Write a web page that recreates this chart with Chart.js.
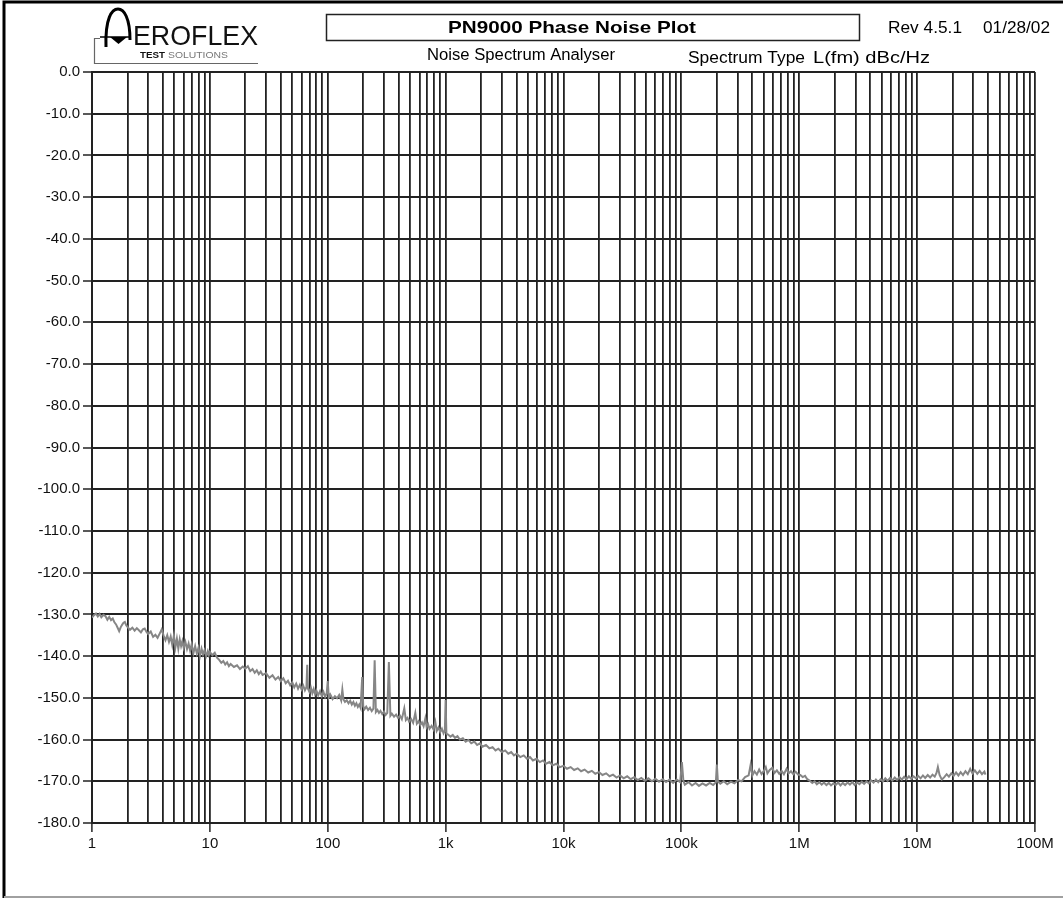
<!DOCTYPE html>
<html>
<head>
<meta charset="utf-8">
<title>PN9000 Phase Noise Plot</title>
<script src="https://cdn.jsdelivr.net/npm/chart.js@4.4.1/dist/chart.umd.min.js"></script>
<style>
  html, body { margin: 0; padding: 0; background: #fff; }
  #wrap { width: 1063px; height: 899px; position: relative; }
</style>
</head>
<body>
<div id="wrap"><canvas id="noiseChart" width="1063" height="899"></canvas></div>
<script>
// offset frequency (Hz) and single sideband phase noise L(fm) in dBc/Hz, one row per decade
const freqHz = [
  1.00, 1.04, 1.08, 1.12, 1.16, 1.2, 1.25, 1.3, 1.35, 1.4, 1.45, 1.5, 1.55, 1.6, 1.65, 1.7,
  1.75, 1.8, 1.85, 1.9, 1.95, 2.0, 2.1, 2.2, 2.3, 2.4, 2.5, 2.6, 2.7, 2.8, 2.9, 3.0, 3.15,
  3.3, 3.45, 3.6, 3.75, 3.9, 4.05, 4.2, 4.35, 4.5, 4.65, 4.8, 4.95, 5.1, 5.25, 5.4, 5.55,
  5.7, 5.85, 6.0, 6.2, 6.4, 6.6, 6.8, 7.0, 7.25, 7.5, 7.75, 8.0, 8.25, 8.5, 8.75, 9.0, 9.3,
  9.6, 9.8,
  10, 10.5, 11, 11.5, 12, 12.5, 13, 13.5, 14, 14.5, 15, 16, 17, 18, 19, 20, 21, 22, 23, 24,
  25, 26, 27, 28, 30, 32, 34, 36, 38, 40, 42, 44, 46, 48, 50, 52, 54, 56, 58, 60, 62, 64,
  66, 67, 68, 70, 72, 74, 76, 78, 80, 83, 86, 89, 92, 95, 98, 100, 102, 105,
  110, 115, 120, 125, 130, 133, 136, 140, 145, 150, 155, 160, 165, 170, 175, 180, 185, 190,
  196, 200, 205, 212, 220, 228, 236, 244, 250, 256, 264, 272, 280, 290, 300, 310, 320, 330,
  340, 350, 365, 380, 395, 410, 425, 446, 460, 475, 490, 510, 530, 553, 570, 590, 610, 630,
  650, 673, 690, 710, 730, 760, 790, 818, 840, 870, 900, 930, 960, 985, 1000, 1015,
  1050, 1100, 1150, 1200, 1260, 1320, 1400, 1480, 1560, 1650, 1750, 1850, 1950, 2050, 2200,
  2350, 2500, 2650, 2800, 3000, 3200, 3400, 3600, 3800, 4000, 4300, 4600, 4900, 5200, 5500,
  5900, 6300, 6700, 7100, 7600, 8100, 8700, 9300, 10000,
  10.7e3, 11.5e3, 12.3e3, 13.2e3, 14.1e3, 15.1e3, 16.2e3, 17.4e3, 18.6e3, 20e3, 21.4e3,
  23e3, 24.6e3, 26.3e3, 28.2e3, 30.2e3, 32.4e3, 34.7e3, 37.2e3, 39.8e3, 42.7e3, 45.7e3,
  49e3, 52.5e3, 56.2e3, 60.3e3, 64.6e3, 69.2e3, 74.1e3, 79.4e3, 85.1e3, 91.2e3, 97.7e3,
  101e3, 104e3,
  107e3, 115e3, 123e3, 132e3, 141e3, 151e3, 162e3, 174e3, 186e3, 196e3, 200e3, 204e3,
  214e3, 229e3, 245e3, 263e3, 282e3, 302e3, 324e3, 347e3, 372e3, 387e3, 400e3, 417e3,
  437e3, 457e3, 479e3, 501e3, 520e3, 537e3, 562e3, 590e3, 617e3, 646e3, 676e3, 708e3,
  741e3, 780e3, 813e3, 851e3, 891e3, 933e3, 977e3,
  1.02e6, 1.07e6, 1.12e6, 1.17e6, 1.23e6, 1.29e6, 1.35e6, 1.41e6, 1.48e6, 1.55e6, 1.62e6,
  1.7e6, 1.78e6, 1.86e6, 1.95e6, 2.04e6, 2.14e6, 2.24e6, 2.34e6, 2.45e6, 2.57e6, 2.69e6,
  2.82e6, 2.95e6, 3.09e6, 3.24e6, 3.39e6, 3.55e6, 3.72e6, 3.89e6, 4.07e6, 4.27e6, 4.47e6,
  4.68e6, 4.9e6, 5.13e6, 5.37e6, 5.62e6, 5.89e6, 6.17e6, 6.46e6, 6.76e6, 7.08e6, 7.41e6,
  7.76e6, 8.13e6, 8.51e6, 8.91e6, 9.33e6, 9.77e6,
  10.2e6, 10.7e6, 11.2e6, 11.7e6, 12.3e6, 12.9e6, 13.5e6, 14.1e6, 14.6e6, 15.0e6, 15.5e6,
  16.2e6, 17.0e6, 17.8e6, 18.6e6, 19.5e6, 20.4e6, 21.4e6, 22.4e6, 23.4e6, 24.5e6, 25.7e6,
  26.9e6, 28.2e6, 29.5e6, 30.9e6, 32.4e6, 33.9e6, 35.5e6, 37.2e6, 38.0e6
];
const levelDb = [
  -130.8, -130.2, -129.8, -130.5, -129.9, -130.7, -130.1, -130.4, -131.3, -130.6, -131.4, -131.0, -131.9, -132.4, -133.2, -134.0,
  -133.1, -132.5, -132.0, -131.8, -132.6, -133.0, -133.7, -133.2, -133.9, -133.3, -133.8, -134.3, -133.6, -133.4, -134.2, -134.7, -134.1,
  -135.4, -134.9, -135.6, -134.6, -133.6, -135.1, -136.2, -135.0, -136.6, -135.3, -137.4, -135.1, -137.9, -135.8, -138.2, -136.0,
  -137.6, -136.4, -138.0, -136.6, -138.3, -137.0, -138.7, -137.2, -139.3, -137.6, -139.4, -138.0, -139.9, -138.2, -139.6, -138.6, -140.0,
  -138.8, -139.7,
  -139.0, -139.8, -139.2, -140.4, -140.9, -141.6, -141.2, -142.0, -141.5, -142.4, -141.9, -142.6, -142.2, -143.1, -142.5, -143.0, -142.4, -143.6, -143.1, -144.0,
  -143.4, -144.3, -143.7, -144.5, -144.1, -145.2, -144.6, -145.6, -145.0, -146.0, -145.3, -146.5, -145.9, -147.0, -146.3, -147.5, -146.6, -147.8, -146.9, -148.0, -147.1, -148.2,
  -147.4, -142.1, -147.8, -148.6, -147.6, -148.9, -147.9, -149.1, -148.2, -149.4, -148.4, -149.6, -148.6, -149.8, -148.9, -146.0, -149.9, -149.2,
  -150.3, -149.6, -150.1, -149.3, -150.6, -148.0, -150.4, -151.0, -150.6, -151.3, -150.7, -151.6, -151.0, -151.9, -151.3, -152.2, -151.6, -152.4,
  -145.0, -152.0, -152.7, -152.1, -152.9, -152.4, -153.2, -152.6, -141.0, -153.4, -152.9, -153.6, -153.1, -153.9, -153.3, -154.1, -153.6, -141.4,
  -154.3, -153.8, -154.5, -154.0, -154.8, -154.3, -155.1, -152.5, -155.3, -154.8, -155.7, -155.1, -156.0, -153.6, -156.2, -155.6, -156.5, -155.9,
  -156.8, -154.9, -157.0, -156.3, -157.4, -156.7, -157.6, -155.8, -157.9, -157.1, -158.2, -157.4, -158.5, -157.8, -150.5, -158.6,
  -158.8, -159.3, -158.9, -159.6, -159.2, -160.0, -159.7, -160.5, -160.1, -160.9, -160.5, -161.3, -160.9, -161.7, -161.3,
  -162.1, -161.8, -162.6, -162.2, -163.0, -162.6, -163.4, -163.0, -163.8, -163.4, -164.2, -163.8, -164.6, -164.2, -165.0,
  -164.6, -165.4, -165.0, -165.8, -165.4, -166.2, -165.8, -166.6, -166.3,
  -167.0, -166.6, -167.3, -166.9, -167.6, -167.2, -167.9, -167.5, -168.2, -167.8, -168.5,
  -168.1, -168.8, -168.4, -169.1, -168.6, -169.3, -168.8, -169.5, -169.0, -169.7, -169.2,
  -169.9, -169.3, -170.0, -169.4, -170.1, -169.5, -170.2, -169.6, -170.4, -169.6, -170.2,
  -165.4, -169.9,
  -170.8, -170.2, -171.0, -170.4, -171.1, -170.5, -171.0, -170.4, -170.9, -170.3, -166.0, -170.0,
  -170.6, -170.0, -170.7, -170.1, -170.5, -169.7, -170.0, -169.0, -168.6, -166.0, -168.6, -167.6,
  -168.4, -167.2, -168.3, -167.5, -166.6, -168.1, -167.3, -166.8, -168.0, -167.4, -168.2, -167.5,
  -168.3, -167.0, -168.1, -167.6, -168.3, -167.7, -168.4,
  -168.5, -169.0, -168.7, -169.5, -169.9, -170.4, -170.0, -170.7, -170.2, -170.8, -170.3,
  -170.9, -170.4, -171.0, -170.5, -170.9, -170.3, -171.0, -170.4, -170.9, -170.3, -170.8,
  -170.2, -170.9, -170.3, -170.7, -170.1, -170.6, -170.0, -170.5, -169.8, -170.3, -169.6,
  -170.2, -169.5, -170.0, -169.3, -169.9, -169.2, -169.8, -169.1, -169.7, -169.0, -169.6,
  -168.9, -169.5, -168.8, -169.4, -168.8, -169.3,
  -168.7, -169.3, -168.6, -169.2, -168.5, -169.1, -168.4, -168.9, -168.0, -166.6, -168.5,
  -169.6, -169.0, -168.3, -168.9, -168.1, -168.7, -167.9, -168.6, -167.8, -168.5, -167.6,
  -168.3, -167.0, -168.1, -167.4, -168.2, -167.5, -168.3, -167.7, -168.4
];

const xTickLabels = ['1', '10', '100', '1k', '10k', '100k', '1M', '10M', '100M'];
const decades = [1, 10, 100, 1e3, 1e4, 1e5, 1e6, 1e7, 1e8];
const yMin = -180;
const yMax = 0;

const sans = "'Liberation Sans', Arial, sans-serif";
const gridColor = '#222';

const points = freqHz.map((f, i) => ({ x: f, y: levelDb[i] }));

// stretch or squeeze text so it fills the given width
function fitText(c, text, x, y, width) {
  const w = c.measureText(text).width;
  c.save();
  c.translate(x, y);
  c.scale(width / w, 1);
  c.fillText(text, 0, 0);
  c.restore();
}

const pagePlugin = {
  id: 'page',
  beforeDraw(chart) {
    const c = chart.ctx;
    c.save();
    c.fillStyle = '#fff';
    c.fillRect(0, 0, chart.width, chart.height);
    c.restore();
  },
  afterDraw(chart) {
    const c = chart.ctx;
    c.save();

    // frame
    c.strokeStyle = '#000';
    c.lineWidth = 3;
    c.beginPath();
    c.moveTo(4, 898);
    c.lineTo(4, 2);
    c.lineTo(1063, 2);
    c.stroke();
    c.strokeStyle = '#a0a0a0';
    c.lineWidth = 2;
    c.beginPath();
    c.moveTo(4, 897);
    c.lineTo(1063, 897);
    c.stroke();

    // logo bracket
    c.strokeStyle = '#666';
    c.lineWidth = 1.2;
    c.beginPath();
    c.moveTo(100, 38.5);
    c.lineTo(94.5, 38.5);
    c.lineTo(94.5, 63.5);
    c.lineTo(258, 63.5);
    c.stroke();

    // logo arch with the inverted triangle
    c.strokeStyle = '#000';
    c.lineWidth = 3;
    c.beginPath();
    c.moveTo(106, 47);
    c.bezierCurveTo(105, 18, 112, 9, 118, 9);
    c.bezierCurveTo(124, 9, 130, 18, 130, 40);
    c.stroke();
    c.lineWidth = 1.5;
    c.beginPath();
    c.moveTo(100, 37);
    c.lineTo(129, 37);
    c.stroke();
    c.fillStyle = '#000';
    c.beginPath();
    c.moveTo(110, 37);
    c.lineTo(127, 37);
    c.lineTo(118.5, 44);
    c.closePath();
    c.fill();

    c.textBaseline = 'alphabetic';
    c.textAlign = 'left';
    c.fillStyle = '#111';
    c.font = '28px ' + sans;
    fitText(c, 'EROFLEX', 133, 45, 125);
    c.font = 'bold 9px ' + sans;
    fitText(c, 'TEST', 140, 58, 25);
    c.fillStyle = '#777';
    c.font = '9px ' + sans;
    fitText(c, 'SOLUTIONS', 168, 58, 60);

    // title box
    c.strokeStyle = '#222';
    c.lineWidth = 1.5;
    c.strokeRect(326.5, 14.5, 533, 26);
    c.fillStyle = '#000';
    c.font = 'bold 17px ' + sans;
    fitText(c, 'PN9000 Phase Noise Plot', 448, 33, 248);

    c.font = '17px ' + sans;
    fitText(c, 'Rev 4.5.1', 888, 33, 74);
    fitText(c, '01/28/02', 983, 33, 67);

    c.font = '16px ' + sans;
    fitText(c, 'Noise Spectrum Analyser', 427, 60, 188);
    fitText(c, 'Spectrum Type', 688, 63, 117);
    fitText(c, 'L(fm) dBc/Hz', 813, 63, 117);

    c.restore();
  }
};

const ctx = document.getElementById('noiseChart').getContext('2d');

const noiseChart = new Chart(ctx, {
  type: 'line',
  data: {
    datasets: [{
      label: 'L(fm)',
      data: points,
      borderColor: '#868686',
      borderWidth: 2,
      pointRadius: 0,
      tension: 0,
      fill: false
    }]
  },
  options: {
    responsive: false,
    animation: false,
    layout: { padding: { left: 12, right: 28, top: 72, bottom: 36 } },
    plugins: {
      legend: { display: false },
      tooltip: { enabled: false }
    },
    scales: {
      x: {
        type: 'logarithmic',
        min: 1,
        max: 1e8,
        afterBuildTicks(scale) {
          const ticks = [];
          decades.slice(0, -1).forEach(d => {
            for (let m = 1; m < 10; m++) ticks.push({ value: d * m });
          });
          ticks.push({ value: 1e8 });
          scale.ticks = ticks;
        },
        afterFit(scale) { scale.height = 40; },
        ticks: {
          autoSkip: false,
          maxRotation: 0,
          padding: 3,
          color: '#111',
          font: { family: sans, size: 15 },
          callback(value) {
            const i = decades.indexOf(value);
            return i >= 0 ? xTickLabels[i] : '';
          }
        },
        grid: {
          color: gridColor,
          lineWidth: 1.8,
          drawTicks: true,
          tickLength: 9,
          tickWidth: 1.5,
          tickColor(context) {
            return decades.includes(context.tick && context.tick.value) ? '#222' : 'rgba(0,0,0,0)';
          }
        },
        border: { color: gridColor, width: 2 }
      },
      y: {
        type: 'linear',
        min: yMin,
        max: yMax,
        afterFit(scale) { scale.width = 80; },
        ticks: {
          stepSize: 10,
          padding: 3,
          color: '#111',
          font: { family: sans, size: 15 },
          callback(value) { return value.toFixed(1); }
        },
        grid: {
          color: gridColor,
          lineWidth: 2,
          tickLength: 9,
          tickWidth: 1.5,
          tickColor: '#222'
        },
        border: { color: gridColor, width: 2 }
      }
    }
  },
  plugins: [pagePlugin]
});
</script>
</body>
</html>
